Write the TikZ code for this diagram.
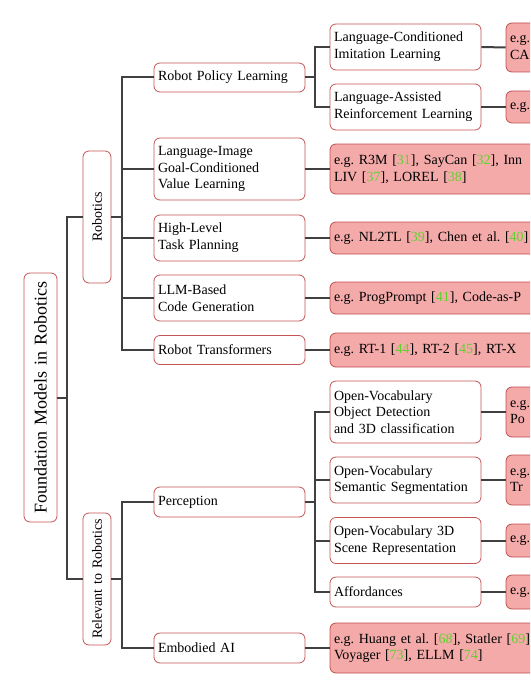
\documentclass[tikz,border=0pt]{standalone}
\usepackage{fontspec}
\setmainfont{Liberation Serif}[WordSpace=1.35]
\definecolor{bordercol}{RGB}{198,84,84}
\definecolor{redfill}{RGB}{245,170,170}
\definecolor{redborder}{RGB}{196,76,76}
\definecolor{linecol}{RGB}{64,64,64}
\definecolor{citegreen}{RGB}{95,210,45}
\newcommand{\cit}[1]{[\textcolor{citegreen}{#1}]}
\tikzset{
  wbox/.style={draw=bordercol, fill=white, rounded corners=6pt, line width=0.8pt,
    inner xsep=4pt, inner ysep=1pt, align=left, anchor=center,
    font=\fontsize{14pt}{16.7pt}\selectfont},
  rbox/.style={wbox, fill=redfill, draw=redborder},
  vbox/.style={draw=bordercol, fill=white, rounded corners=6pt, line width=0.8pt,
    inner sep=1pt, align=center, anchor=center, rotate=90,
    font=\fontsize{14pt}{16.7pt}\selectfont},
  conn/.style={draw=linecol, line width=2pt},
}
\begin{document}
\begin{tikzpicture}[x=1pt,y=-1pt]
\useasboundingbox (0,0) rectangle (530,690);
\clip (0,0) rectangle (530,690);
% root and level 1
\node[vbox, minimum width=249pt, minimum height=33pt, font=\fontsize{18pt}{21pt}\selectfont] (root) at (40.5,397.5) {Foundation Models in Robotics};
\node[vbox, minimum width=132pt, minimum height=28pt] (rob) at (97,217) {Robotics};
\node[vbox, minimum width=132pt, minimum height=28pt] (rel) at (97,579) {Relevant to Robotics};
% robotics children
\node[wbox, text width=143pt, minimum height=29pt] (rpl) at (229.5,77.5) {Robot Policy Learning};
\node[wbox, text width=143pt, minimum height=62pt] (ligc) at (229.5,169) {Language-Image\\Goal-Conditioned\\Value Learning};
\node[wbox, text width=143pt, minimum height=46pt] (hltp) at (229.5,238) {High-Level\\Task Planning};
\node[wbox, text width=143pt, minimum height=46pt] (llm) at (229.5,298) {LLM-Based\\Code Generation};
\node[wbox, text width=143pt, minimum height=29pt] (rt) at (229.5,350) {Robot Transformers};
% robot policy learning children
\node[wbox, text width=143pt, minimum height=46pt] (lcil) at (405.5,47) {Language-Conditioned\\Imitation Learning};
\node[wbox, text width=143pt, minimum height=46pt] (larl) at (405.5,107) {Language-Assisted\\Reinforcement Learning};
% relevant children
\node[wbox, text width=143pt, minimum height=30pt] (perc) at (229.5,502) {Perception};
\node[wbox, text width=143pt, minimum height=30pt] (emb) at (229.5,648) {Embodied AI};
% perception children
\node[wbox, text width=143pt, minimum height=62pt] (ovod) at (405.5,412) {Open-Vocabulary\\Object Detection\\and 3D classification};
\node[wbox, text width=143pt, minimum height=46pt] (ovss) at (405.5,480) {Open-Vocabulary\\Semantic Segmentation};
\node[wbox, text width=143pt, minimum height=46pt] (ov3d) at (405.5,540.5) {Open-Vocabulary 3D\\Scene Representation};
\node[wbox, text width=143pt, minimum height=30pt] (aff) at (405.5,592) {Affordances};
% red leaves
\node[rbox, text width=192pt, minimum height=49pt] (lcilr) at (606,47.5) {e.g.\\CA};
\node[rbox, text width=192pt, minimum height=32pt] (larlr) at (606,107) {e.g.};
\node[rbox, text width=292pt, minimum height=50pt] (ligcr) at (480,169) {e.g.\ R3M \cit{31}, SayCan \cit{32}, Inn\\LIV \cit{37}, LOREL \cit{38}};
\node[rbox, text width=292pt, minimum height=32pt] (hltpr) at (480,238) {e.g.\ NL2TL \cit{39}, Chen et al.\ \cit{40}};
\node[rbox, text width=292pt, minimum height=32pt] (llmr) at (480,298) {e.g.\ ProgPrompt \cit{41}, Code-as-P};
\node[rbox, text width=292pt, minimum height=34pt] (rtr) at (480,350) {e.g.\ RT-1 \cit{44}, RT-2 \cit{45}, RT-X};
\node[rbox, text width=192pt, minimum height=50pt] (ovodr) at (606,412) {e.g.\\Po};
\node[rbox, text width=192pt, minimum height=50pt] (ovssr) at (606,480) {e.g.\\Tr};
\node[rbox, text width=192pt, minimum height=33pt] (ov3dr) at (606,540.5) {e.g.};
\node[rbox, text width=192pt, minimum height=34pt] (affr) at (606,592) {e.g.};
\node[rbox, text width=292pt, minimum height=50pt] (embr) at (480,648) {e.g.\ Huang et al.\ \cit{68}, Statler \cit{69}\\Voyager \cit{73}, ELLM \cit{74}};
% connectors
\foreach \c in {rob,rel} \draw[conn] (root.south) -- ++(10,0) |- (\c.north);
\foreach \c in {rpl,ligc,hltp,llm,rt} \draw[conn] (rob.south) -- ++(11,0) |- (\c.west);
\foreach \c in {perc,emb} \draw[conn] (rel.south) -- ++(11,0) |- (\c.west);
\foreach \c in {lcil,larl} \draw[conn] (rpl.east) -- ++(10,0) |- (\c.west);
\foreach \c in {ovod,ovss,ov3d,aff} \draw[conn] (perc.east) -- ++(10,0) |- (\c.west);
\foreach \a/\b in {lcil/lcilr,larl/larlr,ligc/ligcr,hltp/hltpr,llm/llmr,rt/rtr,ovod/ovodr,ovss/ovssr,ov3d/ov3dr,aff/affr,emb/embr}
  \draw[conn] (\a.east) -- (\b.west);
\end{tikzpicture}
\end{document}
